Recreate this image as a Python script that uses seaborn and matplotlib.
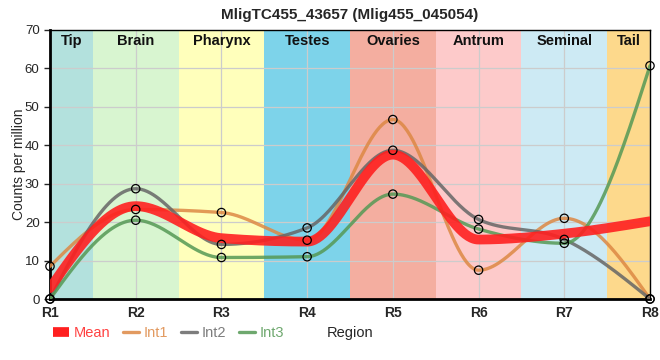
import numpy as np
import pandas as pd
import seaborn as sns
import matplotlib.pyplot as plt
from matplotlib.lines import Line2D

# Data
positions = ["R1", "R2", "R3", "R4", "R5", "R6", "R7", "R8"]
int1 = [8.5, 23.3, 22.5, 15.3, 46.7, 7.5, 21.0, 0.0]
int2 = [0.0, 28.7, 14.2, 18.5, 38.7, 20.7, 15.5, 0.0]
int3 = [0.0, 20.5, 10.8, 11.0, 27.3, 18.2, 14.5, 60.7]

regions = ["Tip", "Brain", "Pharynx", "Testes", "Ovaries", "Antrum", "Seminal", "Tail"]
region_colors = ["#b3e1dd", "#d8f5d0", "#ffffbb", "#7dd3ea",
                 "#f4aea0", "#fdcaca", "#cdeaf4", "#fdd98c"]

series_colors = {"Mean": "#ff2020", "Int1": "#dd8844", "Int2": "#666666", "Int3": "#559955"}


# monotone cubic interpolation (like d3 curveMonotoneX)
def monotone(xs, ys, n=60):
    xs = np.asarray(xs, float)
    ys = np.asarray(ys, float)
    h = np.diff(xs)
    s = np.diff(ys) / h
    t = np.zeros(len(xs))
    for i in range(1, len(xs) - 1):
        p = (s[i - 1] * h[i] + s[i] * h[i - 1]) / (h[i - 1] + h[i])
        t[i] = (np.sign(s[i - 1]) + np.sign(s[i])) * min(abs(s[i - 1]), abs(s[i]), 0.5 * abs(p))
    t[0] = (3 * s[0] - t[1]) / 2
    t[-1] = (3 * s[-1] - t[-2]) / 2
    out_x, out_y = [], []
    for i in range(len(xs) - 1):
        u = np.linspace(0, 1, n)
        h00 = 2 * u**3 - 3 * u**2 + 1
        h10 = u**3 - 2 * u**2 + u
        h01 = -2 * u**3 + 3 * u**2
        h11 = u**3 - u**2
        out_x.extend(xs[i] + u * h[i])
        out_y.extend(h00 * ys[i] + h10 * h[i] * t[i] + h01 * ys[i + 1] + h11 * h[i] * t[i + 1])
    return np.array(out_x), np.array(out_y)


x = np.arange(1, len(positions) + 1)
mean = list(np.mean([int1, int2, int3], axis=0))

rows = []
for name, vals in [("Int1", int1), ("Int2", int2), ("Int3", int3), ("Mean", mean)]:
    sx, sy = monotone(x, vals)
    rows.append(pd.DataFrame({"x": sx, "y": sy, "series": name}))
curves = pd.concat(rows, ignore_index=True)

pts = pd.DataFrame({
    "x": np.tile(x, 3),
    "y": int1 + int2 + int3,
    "series": ["Int1"] * 8 + ["Int2"] * 8 + ["Int3"] * 8,
})

sns.set_style("white")
plt.rcParams["font.family"] = ["Liberation Sans", "DejaVu Sans"]

fig = plt.figure(figsize=(6.6, 3.6), dpi=100)
ax = fig.add_axes([50 / 660, 61 / 360, 600 / 660, 269 / 360])

# region backgrounds
for i, (name, col) in enumerate(zip(regions, region_colors)):
    lo = max(1, i + 0.5)
    hi = min(len(regions), i + 1.5)
    ax.axvspan(lo, hi, color=col, zorder=0, lw=0)
    ax.text((lo + hi) / 2, 69, name, ha="center", va="top",
            fontsize=10.5, fontweight="bold", color="#111111", zorder=5)

for v in x:
    ax.axvline(v, color="#cccccc", lw=0.9, zorder=1)
for v in range(10, 70, 10):
    ax.axhline(v, color="#cccccc", lw=0.9, zorder=1)

sns.lineplot(data=curves[curves.series != "Mean"], x="x", y="y", hue="series",
             palette=series_colors, lw=2.4, alpha=0.85, sort=False,
             estimator=None, legend=False, ax=ax, zorder=3)
sns.lineplot(data=curves[curves.series == "Mean"], x="x", y="y",
             color=series_colors["Mean"], lw=7, alpha=0.9, sort=False,
             estimator=None, legend=False, ax=ax, zorder=4)
sns.scatterplot(data=pts, x="x", y="y", s=36, facecolor="none",
                edgecolor="black", linewidth=0.9, legend=False, ax=ax, zorder=6,
                clip_on=False)

ax.set_xlim(1, 8)
ax.set_ylim(0, 70)
ax.set_xticks(x)
ax.set_xticklabels(positions, fontsize=10, fontweight="bold")
ax.set_yticks(range(0, 71, 10))
ax.tick_params(axis="y", labelsize=9.5, length=4, width=1, direction="out", left=True)
ax.tick_params(axis="x", length=0, pad=5)
for sp in ax.spines.values():
    sp.set_color("black")
    sp.set_linewidth(1)
ax.spines["left"].set_linewidth(2)
ax.spines["bottom"].set_linewidth(2)
ax.set_ylabel("Counts per million", fontsize=10)
ax.yaxis.set_label_coords(-24 / 600, 0.5)
ax.set_xlabel("")
fig.text(350 / 660, 1 - 333 / 360, "Region", ha="center", va="center", fontsize=10.5)
ax.set_title("MligTC455_43657 (Mlig455_045054)", fontsize=11, fontweight="bold", pad=8)

handles = [Line2D([], [], color=series_colors["Mean"], lw=7, solid_capstyle="butt"),
           Line2D([], [], color=series_colors["Int1"], lw=2.4, alpha=0.85),
           Line2D([], [], color=series_colors["Int2"], lw=2.4, alpha=0.85),
           Line2D([], [], color=series_colors["Int3"], lw=2.4, alpha=0.85)]
leg = fig.legend(handles, ["Mean", "Int1", "Int2", "Int3"], loc="center left",
                 bbox_to_anchor=(53 / 660, 1 - 333 / 360), ncol=4, frameon=False,
                 fontsize=10.5, handlelength=1.1, handletextpad=0.3, columnspacing=0.9,
                 borderaxespad=0, borderpad=0)
for txt, name in zip(leg.get_texts(), ["Mean", "Int1", "Int2", "Int3"]):
    txt.set_color(series_colors[name])
    txt.set_alpha(0.85)

fig.savefig("out.png", dpi=100)
